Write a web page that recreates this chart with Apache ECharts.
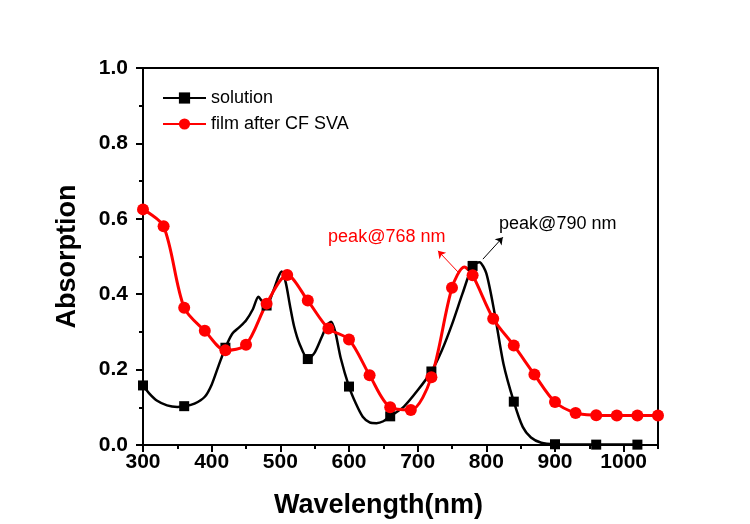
<!DOCTYPE html>
<html>
<head>
<meta charset="utf-8">
<script src="https://cdn.jsdelivr.net/npm/echarts@6/dist/echarts.min.js"></script>
<style>
  html, body { margin: 0; padding: 0; background: #fff; }
  #chart { width: 750px; height: 524px; }
</style>
</head>
<body>
<div id="chart"></div>
<script>
// solution curve (dense trace), squares drawn only at solMarks
const solX = [300, 310, 320, 335, 350, 360, 375, 390, 400, 410, 420, 430, 440, 450, 460, 468, 474, 480, 490, 497, 502, 508, 514, 520, 528, 540, 550, 560, 568, 574, 580, 588, 600, 610, 620, 630, 640, 650, 660, 680, 700, 720, 735, 750, 765, 780, 790, 800, 812, 825, 840, 853, 865, 880, 900, 960, 1020];
const solY = [0.158, 0.135, 0.118, 0.105, 0.101, 0.103, 0.110, 0.128, 0.160, 0.210, 0.258, 0.295, 0.312, 0.330, 0.360, 0.393, 0.380, 0.370, 0.410, 0.445, 0.460, 0.430, 0.370, 0.315, 0.268, 0.228, 0.245, 0.285, 0.318, 0.327, 0.300, 0.230, 0.155, 0.110, 0.075, 0.060, 0.058, 0.063, 0.076, 0.102, 0.145, 0.195, 0.250, 0.320, 0.400, 0.475, 0.485, 0.455, 0.350, 0.215, 0.115, 0.048, 0.020, 0.006, 0.002, 0.001, 0.001];
const solMarks = [300, 360, 420, 480, 540, 600, 660, 720, 780, 840, 900, 960, 1020];

// film after CF SVA, circles every 30 nm
const filmX = [300, 330, 360, 390, 420, 450, 480, 510, 540, 570, 600, 630, 660, 690, 720, 750, 768, 780, 810, 840, 870, 900, 930, 960, 990, 1020, 1050];
const filmY = [0.625, 0.580, 0.364, 0.303, 0.251, 0.266, 0.375, 0.451, 0.383, 0.309, 0.280, 0.185, 0.100, 0.093, 0.180, 0.417, 0.472, 0.450, 0.335, 0.264, 0.187, 0.114, 0.085, 0.079, 0.078, 0.078, 0.078];
const filmNoMark = [768];

const seriesNames = ['solution', 'film after CF SVA'];
const yTicks = [0, 0.2, 0.4, 0.6, 0.8, 1.0];

const FONT = 'Liberation Sans, Arial, sans-serif';

function buildData(xs, ys, showMark) {
    return xs.map((x, i) => {
        const item = { value: [x, ys[i]] };
        if (!showMark(x)) item.symbol = 'none';
        return item;
    });
}

const chart = echarts.init(document.getElementById('chart'));
const option = {
    backgroundColor: '#ffffff',
    animation: false,
    grid: {
        left: 143, right: 92, top: 68, bottom: 77,
        show: true, borderColor: '#000', borderWidth: 2, backgroundColor: 'transparent'
    },
    legend: {
        orient: 'vertical',
        left: 157, top: 84,
        itemWidth: 43, itemHeight: 14, itemGap: 8,
        textStyle: { fontSize: 18, color: '#000', fontFamily: FONT },
        data: seriesNames
    },
    xAxis: [{
        type: 'value',
        min: 300, max: 1050, interval: 100,
        name: 'Wavelength(nm)',
        nameLocation: 'middle',
        nameGap: 47,
        nameTextStyle: { fontSize: 27, fontWeight: 'bold', color: '#000', fontFamily: FONT, padding: [0, 44, 0, 0] },
        axisLine: { onZero: false, lineStyle: { color: '#000', width: 2 } },
        axisTick: { length: 7, lineStyle: { color: '#000', width: 2 } },
        axisLabel: {
            fontSize: 21, fontWeight: 'bold', color: '#000', fontFamily: FONT, margin: 7,
            showMaxLabel: false,
            formatter: v => String(v)
        },
        splitLine: { show: false }
    }, {
        type: 'value',
        position: 'bottom',
        min: 300, max: 1050, interval: 50,
        axisLine: { show: false },
        axisTick: { length: 4, lineStyle: { color: '#000', width: 2 } },
        axisLabel: { show: false },
        splitLine: { show: false }
    }],
    yAxis: {
        type: 'value',
        min: 0, max: 1, interval: 0.2,
        name: 'Absorption',
        nameLocation: 'middle',
        nameGap: 62,
        nameTextStyle: { fontSize: 27, fontWeight: 'bold', color: '#000', fontFamily: FONT },
        axisLine: { show: true, onZero: false, lineStyle: { color: '#000', width: 2 } },
        axisTick: { show: true, length: 7, lineStyle: { color: '#000', width: 2 } },
        minorTick: { show: true, splitNumber: 2, length: 4, lineStyle: { color: '#000', width: 2 } },
        axisLabel: {
            fontSize: 21, fontWeight: 'bold', color: '#000', fontFamily: FONT, margin: 15,
            formatter: v => yTicks.some(t => Math.abs(t - v) < 1e-6) ? v.toFixed(1) : ''
        },
        splitLine: { show: false }
    },
    series: [{
        name: seriesNames[0],
        type: 'line',
        xAxisIndex: 0,
        smooth: 0.25,
        symbol: 'rect',
        symbolSize: 10,
        showAllSymbol: true,
        lineStyle: { color: '#000', width: 2.5 },
        itemStyle: { color: '#000' },
        data: buildData(solX, solY, x => solMarks.includes(x)),
        markLine: {
            silent: true,
            symbol: ['none', 'arrow'],
            symbolSize: 7,
            label: { show: false },
            lineStyle: { color: '#000', width: 1, type: 'solid' },
            data: [[{ coord: [795, 0.493] }, { coord: [824, 0.551] }]]
        },
        markPoint: {
            silent: true,
            symbol: 'circle',
            symbolSize: 0,
            label: { show: true, position: 'inside', formatter: 'peak@790 nm', color: '#000', fontSize: 18, fontFamily: FONT },
            data: [{ coord: [904, 0.586] }]
        }
    }, {
        name: seriesNames[1],
        type: 'line',
        xAxisIndex: 0,
        smooth: 0.3,
        symbol: 'circle',
        symbolSize: 12,
        showAllSymbol: true,
        lineStyle: { color: '#ff0000', width: 3 },
        itemStyle: { color: '#ff0000' },
        data: buildData(filmX, filmY, x => !filmNoMark.includes(x)),
        markLine: {
            silent: true,
            symbol: ['none', 'arrow'],
            symbolSize: 7,
            label: { show: false },
            lineStyle: { color: '#ff0000', width: 1, type: 'solid' },
            data: [[{ coord: [758.7, 0.459] }, { coord: [729.6, 0.515] }]]
        },
        markPoint: {
            silent: true,
            symbol: 'circle',
            symbolSize: 0,
            label: { show: true, position: 'inside', formatter: 'peak@768 nm', color: '#ff0000', fontSize: 18, fontFamily: FONT },
            data: [{ coord: [655, 0.551] }]
        }
    }]
};
chart.setOption(option);
</script>
</body>
</html>
